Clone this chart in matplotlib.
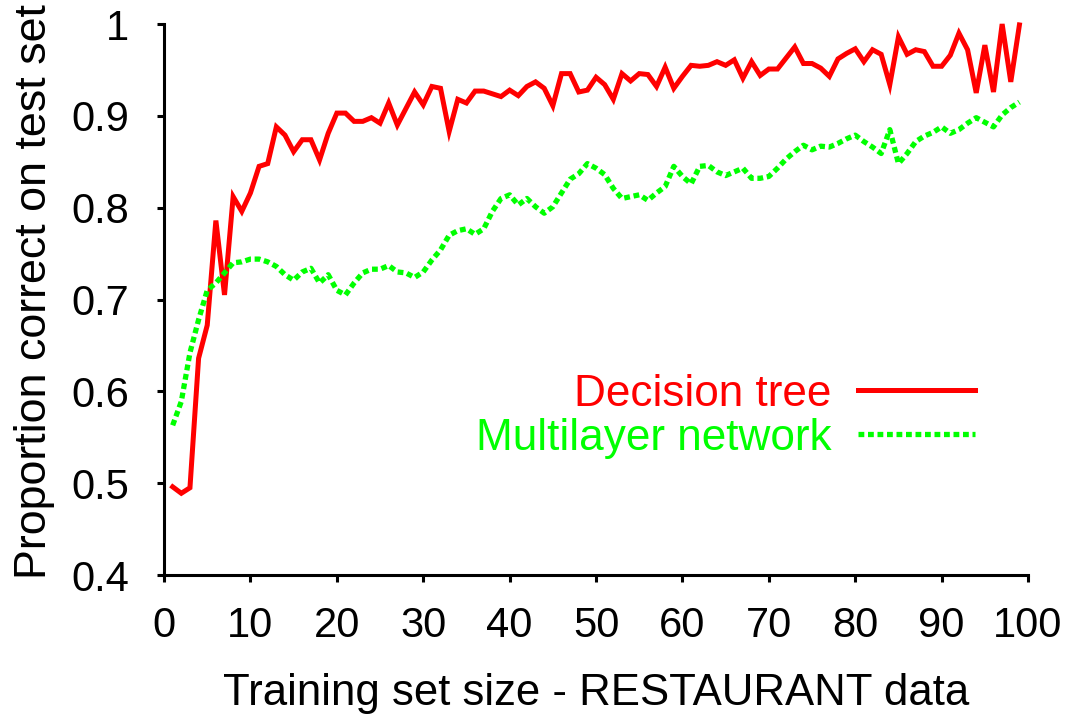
import matplotlib
matplotlib.use("Agg")
import matplotlib.pyplot as plt

plt.rcParams['font.family'] = ['Liberation Sans', 'DejaVu Sans']

# training set sizes 1..99
sizes = list(range(1, 100))

decision_tree = [
    0.496, 0.489, 0.495, 0.636, 0.672, 0.786, 0.705, 0.812, 0.796, 0.816,
    0.845, 0.848, 0.888, 0.879, 0.861, 0.874, 0.874, 0.852, 0.881, 0.903,
    0.903, 0.894, 0.894, 0.898, 0.892, 0.914, 0.890, 0.908, 0.926, 0.912,
    0.932, 0.930, 0.883, 0.918, 0.914, 0.927, 0.927, 0.924, 0.921, 0.928,
    0.922, 0.932, 0.937, 0.930, 0.911, 0.946, 0.946, 0.926, 0.928, 0.942,
    0.934, 0.918, 0.946, 0.938, 0.946, 0.945, 0.932, 0.953, 0.930, 0.943,
    0.955, 0.954, 0.955, 0.959, 0.955, 0.961, 0.941, 0.959, 0.944, 0.951,
    0.951, 0.963, 0.975, 0.957, 0.957, 0.952, 0.943, 0.962, 0.968, 0.973,
    0.959, 0.972, 0.967, 0.934, 0.986, 0.967, 0.972, 0.970, 0.954, 0.954,
    0.966, 0.990, 0.972, 0.925, 0.977, 0.926, 1.000, 0.937, 0.999,
]

multilayer = [
    0.563, 0.589, 0.642, 0.678, 0.710, 0.718, 0.729, 0.740, 0.741, 0.744,
    0.744, 0.741, 0.736, 0.727, 0.721, 0.730, 0.734, 0.718, 0.727, 0.710,
    0.705, 0.718, 0.729, 0.733, 0.733, 0.737, 0.730, 0.729, 0.724, 0.730,
    0.743, 0.754, 0.770, 0.775, 0.777, 0.771, 0.777, 0.796, 0.810, 0.814,
    0.803, 0.810, 0.801, 0.794, 0.801, 0.816, 0.831, 0.837, 0.848, 0.843,
    0.836, 0.821, 0.810, 0.812, 0.814, 0.808, 0.816, 0.823, 0.845, 0.834,
    0.826, 0.845, 0.846, 0.839, 0.835, 0.839, 0.843, 0.832, 0.832, 0.834,
    0.843, 0.853, 0.861, 0.868, 0.863, 0.867, 0.866, 0.870, 0.875, 0.879,
    0.872, 0.866, 0.859, 0.885, 0.848, 0.859, 0.872, 0.878, 0.882, 0.888,
    0.881, 0.885, 0.892, 0.898, 0.893, 0.888, 0.901, 0.909, 0.915,
]

x_ticks = [0, 10, 20, 30, 40, 50, 60, 70, 80, 90, 100]
y_ticks = [0.4, 0.5, 0.6, 0.7, 0.8, 0.9, 1.0]
y_tick_labels = ["0.4", "0.5", "0.6", "0.7", "0.8", "0.9", "1"]

fig = plt.figure(figsize=(10.7, 7.15), dpi=100)
ax = fig.add_axes([0.1533, 0.1958, 0.8075, 0.7706])

ax.plot(sizes, decision_tree, color="#ff0000", lw=3.6, label="Decision tree",
        clip_on=False, solid_joinstyle="miter")
ax.plot(sizes, multilayer, color="#00ff00", lw=3.8, linestyle=(0, (1.1, 0.7)),
        label="Multilayer network", clip_on=False)

ax.set_xlim(0, 100)
ax.set_ylim(0.4, 1.0)
ax.set_xticks(x_ticks)
ax.set_yticks(y_ticks)
ax.set_yticklabels(y_tick_labels)

for side in ["top", "right"]:
    ax.spines[side].set_visible(False)
for side in ["left", "bottom"]:
    ax.spines[side].set_linewidth(2.2)

ax.tick_params(axis="both", direction="out", length=5, width=2.2, labelsize=30)
ax.tick_params(axis="y", pad=20)
ax.tick_params(axis="x", pad=17)

ax.set_xlabel("Training set size - RESTAURANT data", fontsize=31.5, labelpad=20)
ax.set_ylabel("Proportion correct on test set", fontsize=32.3)
ax.yaxis.set_label_coords(-0.126, 0.515)

ax.legend(loc="center right", bbox_to_anchor=(0.939, 0.288), frameon=False,
          markerfirst=False, fontsize=31.8, handlelength=2.65, handletextpad=0.6,
          labelspacing=0.07, borderpad=0, borderaxespad=0, labelcolor="linecolor")

fig.savefig("out.png", dpi=100)
